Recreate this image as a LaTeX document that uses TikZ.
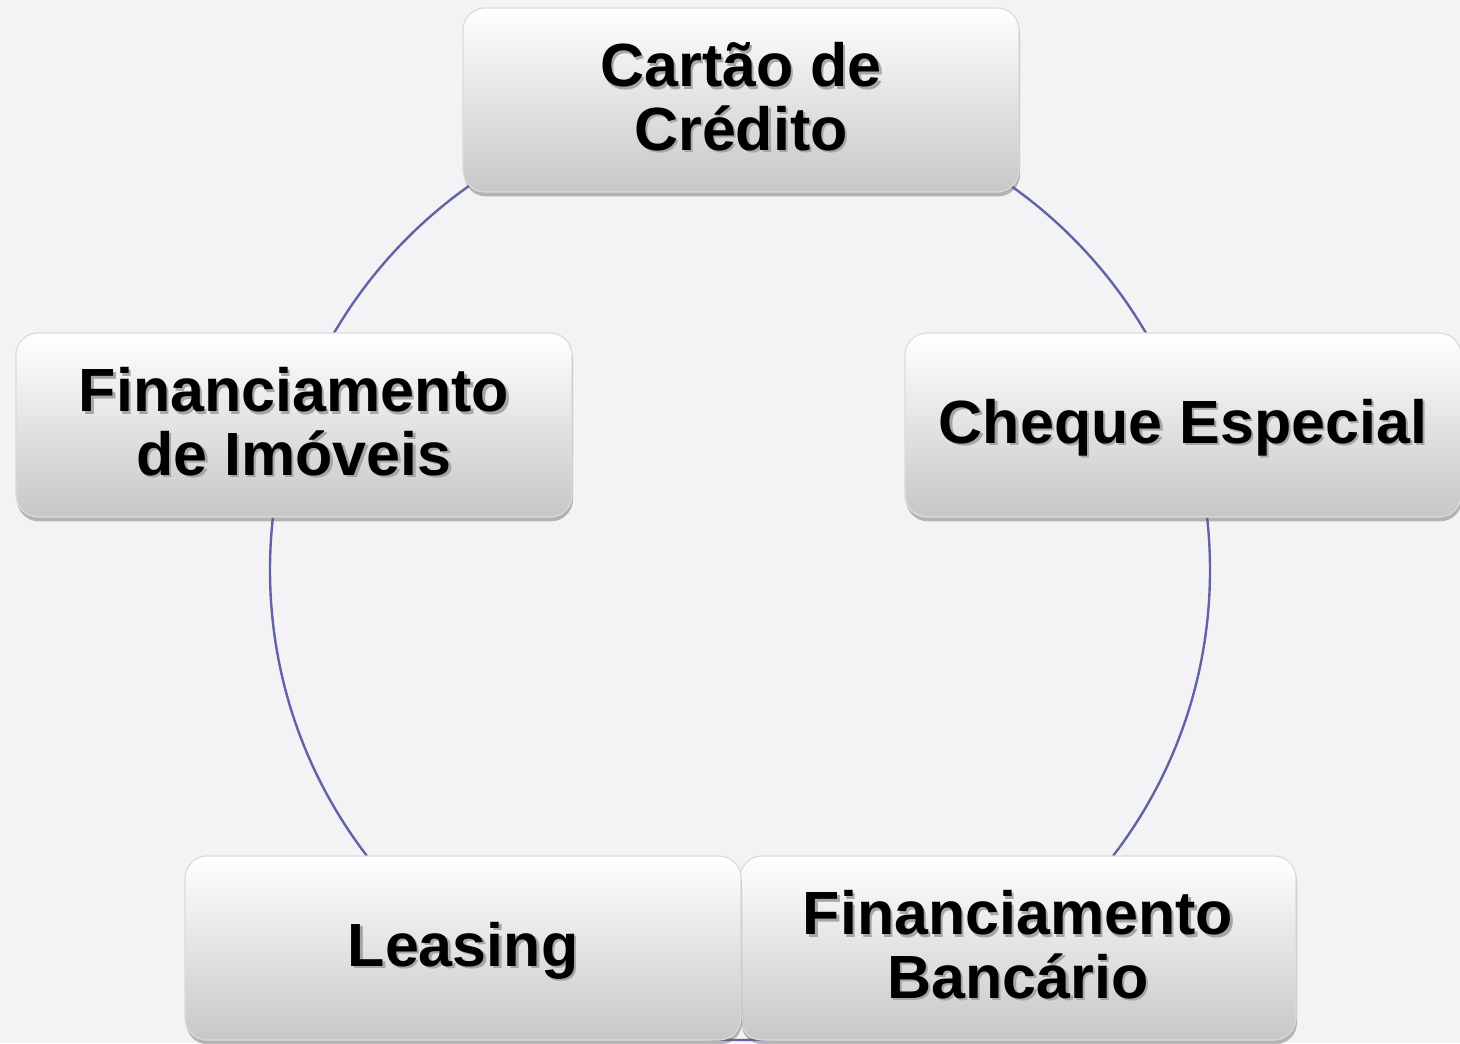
\documentclass[tikz,border=0pt]{standalone}
\usepackage{fontspec}
\setmainfont{Liberation Sans}
\usetikzlibrary{shadows}

\definecolor{pagebg}{RGB}{243,243,245}
\definecolor{ringline}{RGB}{96,100,166}

% text with a soft grey shadow
\newcommand\shtext[1]{\raisebox{-3.5pt}[\height][\depth]{\makebox[0pt][l]{\hspace{1.2pt}\raisebox{-1.2pt}{\color{black!35}\begin{tabular}{@{}c@{}}#1\end{tabular}}}\begin{tabular}{@{}c@{}}#1\end{tabular}}}

\tikzset{
  cardbox/.style={rectangle, rounded corners=11pt, minimum width=278pt, minimum height=92pt,
    top color=white, bottom color=black!22, draw=black!14, line width=0.6pt,
    drop shadow={shadow xshift=0.5pt, shadow yshift=-2.2pt, opacity=0.45, fill=black!60},
    font=\fontsize{30.5}{31.5}\selectfont\bfseries, align=center, inner sep=0pt},
}

\begin{document}
\begin{tikzpicture}[x=0.5pt,y=0.5pt,yscale=-1,xscale=1]
\renewcommand\arraystretch{1}
\fill[pagebg] (0,0) rectangle (1460,1043);
\useasboundingbox (0,0) rectangle (1460,1043);

%Shape: Ring
\coordinate (hub) at (740,570);
\draw[ringline, line width=1.2pt] (hub) circle [radius=235pt];

% Text Node
\node[cardbox] (cartao) at (741,100) {\shtext{Cartão de\\Crédito}};
% Text Node
\node[cardbox] (cheque) at (1183,425) {\shtext{Cheque Especial}};
% Text Node
\node[cardbox] (bancario) at (1018,948) {\shtext{Financiamento\\Bancário}};
% Text Node
\node[cardbox] (leasing) at (463,948) {\shtext{Leasing}};
% Text Node
\node[cardbox] (imoveis) at (294,425) {\shtext{Financiamento\\de Imóveis}};

\end{tikzpicture}
\end{document}
